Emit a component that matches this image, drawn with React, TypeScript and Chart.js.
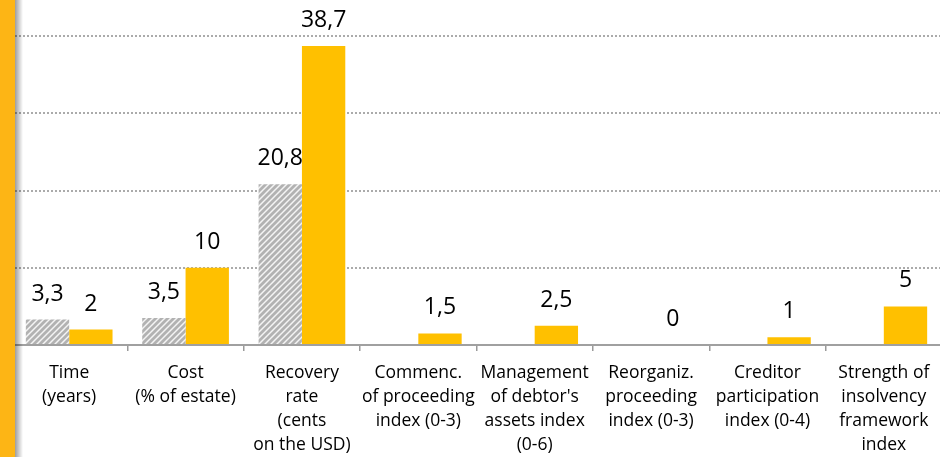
import React, { useEffect, useRef } from "react";
import { Chart, registerables } from "chart.js";

Chart.register(...registerables);

const categories: string[][] = [
  ["Time", "(years)"],
  ["Cost", "(% of estate)"],
  ["Recovery", "rate", "(cents", "on the USD)"],
  ["Commenc.", "of proceeding", "index (0-3)"],
  ["Management", "of debtor's", "assets index", "(0-6)"],
  ["Reorganiz.", "proceeding", "index (0-3)"],
  ["Creditor", "participation", "index (0-4)"],
  ["Strength of", "insolvency", "framework", "index"],
];

const hatchedValues: (number | null)[] = [3.3, 3.5, 20.8, null, null, null, null, null];
const solidValues: number[] = [2, 10, 38.7, 1.5, 2.5, 0, 1, 5];

const yTicks: number[] = [0, 10, 20, 30, 40];

function makeHatch(): CanvasPattern | string {
  const c = document.createElement("canvas");
  const s = 6;
  c.width = s;
  c.height = s;
  const ctx = c.getContext("2d");
  if (!ctx) return "#c8c8c8";
  ctx.fillStyle = "#f4f4f4";
  ctx.fillRect(0, 0, s, s);
  ctx.strokeStyle = "#b2b2b2";
  ctx.lineWidth = 2.8;
  ctx.beginPath();
  ctx.moveTo(-1, s + 1);
  ctx.lineTo(s + 1, -1);
  ctx.moveTo(-1, 1);
  ctx.lineTo(1, -1);
  ctx.moveTo(s - 1, s + 1);
  ctx.lineTo(s + 1, s - 1);
  ctx.stroke();
  const p = ctx.createPattern(c, "repeat");
  return p || "#c8c8c8";
}

const labelPlugin = {
  id: "valueLabels",
  afterDatasetsDraw(chart: any) {
    const ctx = chart.ctx;
    ctx.save();
    ctx.font = "23px 'Open Sans'";
    ctx.fillStyle = "#000000";
    ctx.textAlign = "center";
    ctx.textBaseline = "alphabetic";
    chart.data.datasets.forEach((ds: any, di: number) => {
      const meta = chart.getDatasetMeta(di);
      meta.data.forEach((el: any, i: number) => {
        const v = ds.data[i];
        if (v === null || v === undefined) return;
        const txt = String(v).replace(".", ",");
        ctx.fillText(txt, el.x, el.y - 19);
      });
    });
    ctx.restore();
  },
};

export default function App() {
  const ref = useRef<HTMLCanvasElement | null>(null);

  useEffect(() => {
    if (!ref.current) return;
    const chart = new Chart(ref.current, {
      type: "bar",
      data: {
        labels: categories,
        datasets: [
          {
            data: hatchedValues,
            backgroundColor: makeHatch() as any,
            borderWidth: 0,
            categoryPercentage: 0.745,
            barPercentage: 1,
          },
          {
            data: solidValues,
            backgroundColor: "#FFC000",
            borderWidth: 0,
            categoryPercentage: 0.745,
            barPercentage: 1,
          },
        ],
      },
      options: {
        responsive: false,
        animation: false,
        layout: { padding: { left: 11, right: 1, top: 36, bottom: -10 } },
        plugins: {
          legend: { display: false },
          tooltip: { enabled: false },
        },
        scales: {
          x: {
            offset: true,
            grid: {
              offset: true,
              drawOnChartArea: false,
              drawTicks: true,
              tickLength: 6,
              color: "#9a9a9a",
              lineWidth: 1.5,
            },
            border: { display: true, color: "#a0a0a0", width: 2 },
            ticks: {
              color: "#000000",
              font: { family: "'Open Sans'", size: 17.5, lineHeight: "24px" },
              padding: 10,
              maxRotation: 0,
              minRotation: 0,
              autoSkip: false,
            },
          },
          y: {
            min: yTicks[0],
            max: yTicks[yTicks.length - 1],
            afterBuildTicks: (axis: any) => {
              axis.ticks = yTicks.map((v) => ({ value: v }));
            },
            ticks: { display: false },
            border: { display: false, dash: [2, 2] },
            grid: {
              drawTicks: false,
              color: (c: any) => (c.tick && c.tick.value === 0 ? "rgba(0,0,0,0)" : "#ababab"),
              lineWidth: 2,
            },
          },
        },
      },
      plugins: [labelPlugin],
    });
    return () => chart.destroy();
  }, []);

  return (
    <div
      style={{
        position: "absolute",
        left: 0,
        top: 0,
        width: 940,
        height: 457,
        overflow: "hidden",
        background: "#ffffff",
      }}
    >
      <canvas ref={ref} width={943} height={457} style={{ display: "block" }} />
      <div
        style={{
          position: "absolute",
          left: 0,
          top: 0,
          width: 15,
          height: 457,
          background: "#FDB515",
        }}
      />
      <div
        style={{
          position: "absolute",
          left: 15,
          top: 0,
          width: 8,
          height: 457,
          background: "linear-gradient(to right, rgba(0,0,0,0.38), rgba(0,0,0,0))",
        }}
      />
    </div>
  );
}
